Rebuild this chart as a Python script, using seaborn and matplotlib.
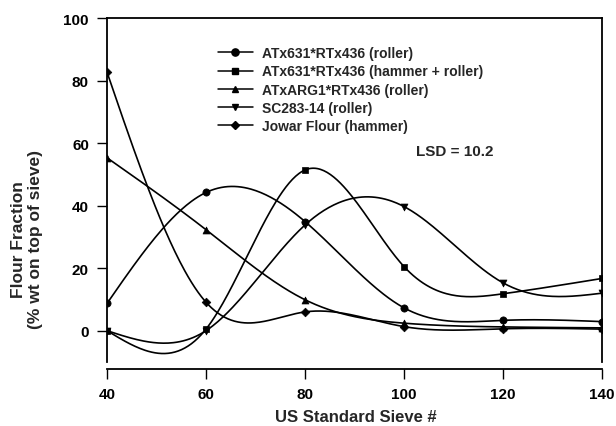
import numpy as np
import pandas as pd
import matplotlib
matplotlib.use("Agg")
import matplotlib.pyplot as plt
import seaborn as sns
from matplotlib.lines import Line2D

sieves = [40, 60, 80, 100, 120, 140]
series_names = [
    "ATx631*RTx436 (roller)",
    "ATx631*RTx436 (hammer + roller)",
    "ATxARG1*RTx436 (roller)",
    "SC283-14 (roller)",
    "Jowar Flour (hammer)",
]
atx631_roller = [8.7, 44.2, 34.9, 7.3, 3.3, 2.9]
atx631_hammer_roller = [0.0, 0.5, 51.4, 20.5, 11.8, 16.7]
atxarg1_roller = [55.3, 32.3, 9.9, 2.4, 1.2, 0.9]
sc283_roller = [0.0, 0.0, 33.8, 39.7, 15.3, 12.0]
jowar_hammer = [82.7, 9.1, 6.0, 1.3, 0.6, 0.5]
markers = ["o", "s", "^", "v", "D"]
marker_sizes = [5.2, 4.6, 5.0, 5.0, 4.4]

values = [atx631_roller, atx631_hammer_roller, atxarg1_roller, sc283_roller, jowar_hammer]


def natural_spline(x, y, n=300):
    x = np.asarray(x, float)
    y = np.asarray(y, float)
    k = len(x)
    h = np.diff(x)
    A = np.zeros((k, k))
    b = np.zeros(k)
    A[0, 0] = 1
    A[-1, -1] = 1
    for i in range(1, k - 1):
        A[i, i - 1] = h[i - 1]
        A[i, i] = 2 * (h[i - 1] + h[i])
        A[i, i + 1] = h[i]
        b[i] = 6 * ((y[i + 1] - y[i]) / h[i] - (y[i] - y[i - 1]) / h[i - 1])
    M = np.linalg.solve(A, b)
    xs = np.linspace(x[0], x[-1], n)
    ys = np.empty_like(xs)
    for j, xv in enumerate(xs):
        i = min(np.searchsorted(x, xv, side="right") - 1, k - 2)
        t1 = x[i + 1] - xv
        t0 = xv - x[i]
        ys[j] = (M[i] * t1 ** 3 / (6 * h[i]) + M[i + 1] * t0 ** 3 / (6 * h[i])
                 + (y[i] / h[i] - M[i] * h[i] / 6) * t1
                 + (y[i + 1] / h[i] - M[i + 1] * h[i] / 6) * t0)
    return xs, ys


sns.set_theme(style="white")
plt.rcParams["font.family"] = ["Liberation Sans", "DejaVu Sans"]
plt.rcParams["font.weight"] = "bold"

fig = plt.figure(figsize=(6.16, 4.27), dpi=100)
ax = fig.add_axes([0.1737, 0.150, 0.8036, 0.8055])

curves = []
points = []
for name, vals in zip(series_names, values):
    xs, ys = natural_spline(sieves, vals)
    curves.append(pd.DataFrame({"x": xs, "y": ys, "series": name}))
    points.append(pd.DataFrame({"x": sieves, "y": vals, "series": name}))
curves = pd.concat(curves)
points = pd.concat(points)

for name, m, ms in zip(series_names, markers, marker_sizes):
    sns.lineplot(data=curves[curves.series == name], x="x", y="y", ax=ax,
                 color="black", linewidth=1.2, legend=False, estimator=None, sort=False)
    sns.scatterplot(data=points[points.series == name], x="x", y="y", ax=ax,
                    color="black", marker=m, s=ms ** 2, edgecolor="black",
                    linewidth=0.5, legend=False, zorder=5)

ax.set_xlim(40, 140)
ax.set_ylim(-10, 100)
ax.set_xticks(sieves)
ax.set_yticks([0, 20, 40, 60, 80, 100])
for s in ["left", "right", "top", "bottom"]:
    ax.spines[s].set_visible(True)
    ax.spines[s].set_color("black")
    ax.spines[s].set_linewidth(1.3)
ax.spines["bottom"].set_position(("outward", 5))
ax.tick_params(axis="both", which="major", direction="out", length=7, width=1.0,
               color="black", labelsize=11, labelcolor="black", bottom=True, left=True, pad=6)
for lab in ax.get_xticklabels() + ax.get_yticklabels():
    lab.set_fontweight("bold")

ax.set_xlabel("US Standard Sieve #", fontsize=12, fontweight="bold")
ax.xaxis.set_label_coords(0.503, -0.137)
ax.set_ylabel("Flour Fraction\n(% wt on top of sieve)", fontsize=12.5, fontweight="bold",
              linespacing=1.15)
ax.yaxis.set_label_coords(-0.13, 0.358)

ax.text(0.624, 0.612, "LSD = 10.2", transform=ax.transAxes, fontsize=11,
        fontweight="bold", ha="left", va="center")

handles = [Line2D([0], [0], color="black", linewidth=1.1, marker=m, markersize=ms,
                  markerfacecolor="black", markeredgecolor="black")
           for m, ms in zip(markers, marker_sizes)]
leg = ax.legend(handles, series_names, loc="upper left", bbox_to_anchor=(0.224, 0.918),
                frameon=False, fontsize=10, handlelength=2.5, handletextpad=0.65,
                labelspacing=0.30, borderaxespad=0, borderpad=0)
for t in leg.get_texts():
    t.set_fontweight("bold")

fig.savefig("out.png", dpi=100)
